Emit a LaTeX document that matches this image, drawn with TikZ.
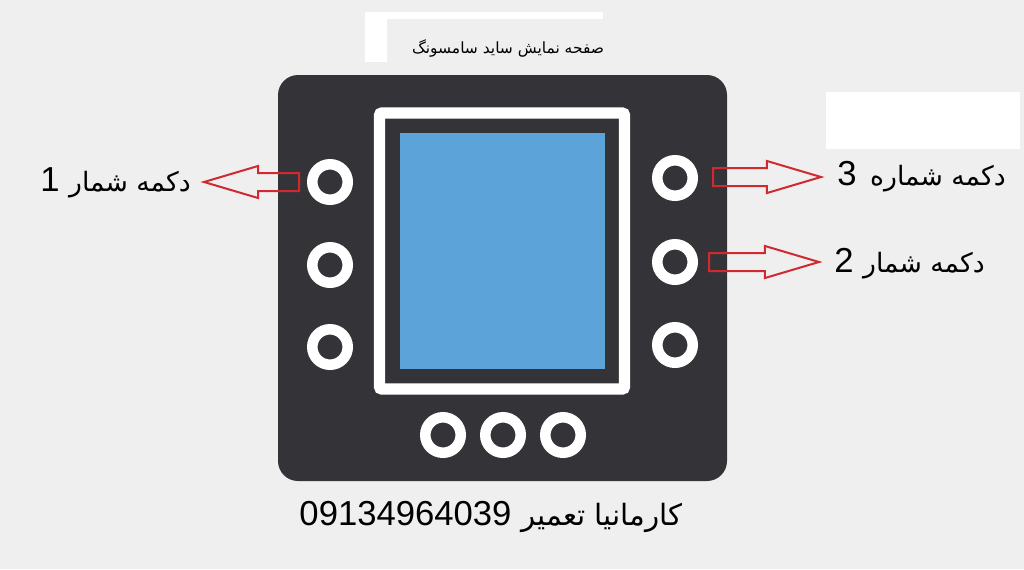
\documentclass[tikz,border=0pt]{standalone}
\usepackage{fontspec}
\setmainfont{Liberation Sans}
\newfontfamily\arabicfont[Script=Arabic]{DejaVu Sans}
\TeXXeTstate=1
\usetikzlibrary{shapes.arrows,positioning}

\definecolor{bgGray}{HTML}{EFEFEF}
\definecolor{panelDark}{HTML}{343438}
\definecolor{screenBlue}{HTML}{5BA3D9}
\definecolor{arrowRed}{HTML}{D02A30}

\tikzset{
  ring/.style={circle,draw=white,line width=7.9pt,minimum size=26.6pt,inner sep=0pt},
  callout/.style={font=\fontsize{26}{30}\selectfont,inner sep=0pt},
  blockarrow/.style={single arrow,draw=arrowRed,line width=1.5pt,fill=none,
    inner xsep=0pt,inner ysep=6pt,single arrow head extend=5.25pt,
    single arrow tip angle=33,anchor=tail},
}

\begin{document}
\begin{tikzpicture}[x=0.75pt,y=-0.75pt]
\useasboundingbox[fill=bgGray] (0,0) rectangle (1024,569);

% white patches
\fill[white] (365,12) rectangle (603,19);
\fill[white] (365,12) rectangle (387,62);
\fill[white] (826,92) rectangle (1020,149);

% the device
\fill[panelDark,rounded corners=15pt] (278,75) rectangle (727,481);
\draw[white,line width=8.6pt,rounded corners=2pt] (379.5,113) rectangle (624.5,389);
\fill[screenBlue] (400,133) rectangle (605,369);

% buttons
\foreach \y [count=\i] in {182,265,347}
  \node[ring] (b\i) at (330,\y) {};
\foreach \y [count=\i from 4] in {178,262,345}
  \node[ring] (b\i) at (675,\y) {};
\foreach \x [count=\i from 7] in {443,503,563}
  \node[ring] (b\i) at (\x,435) {};

% pointers
\node[blockarrow,shape border rotate=180,minimum height=71.25pt] (a1) at (300,182) {};
\node[blockarrow,minimum height=81pt] (a3) at (712,177) {};
\node[blockarrow,minimum height=82.5pt] (a2) at (708,262) {};

% texts
\node[font=\fontsize{11.6}{13}\selectfont,inner sep=0pt] (title) at (508,48)
  {\arabicfont\beginR صفحه نمایش ساید سامسونگ\endR};
\node[callout,anchor=east] (lab1) at (191,183)
  {\beginR{\arabicfont\fontsize{20}{26}\selectfont دکمه شمار} 1\endR};
\node[callout,anchor=west] (lab3) at (837,177)
  {\beginR{\arabicfont\fontsize{20}{26}\selectfont دکمه شماره}\hspace{3pt} 3\endR};
\node[callout,anchor=west] (lab2) at (834,264)
  {\beginR{\arabicfont\fontsize{20}{26}\selectfont دکمه شمار} 2\endR};
\node[callout] (brand) at (491,517)
  {\beginR{\arabicfont\fontsize{22}{26}\selectfont کارمانیا تعمیر} \beginL 09134964039\endL\endR};
\end{tikzpicture}
\end{document}
